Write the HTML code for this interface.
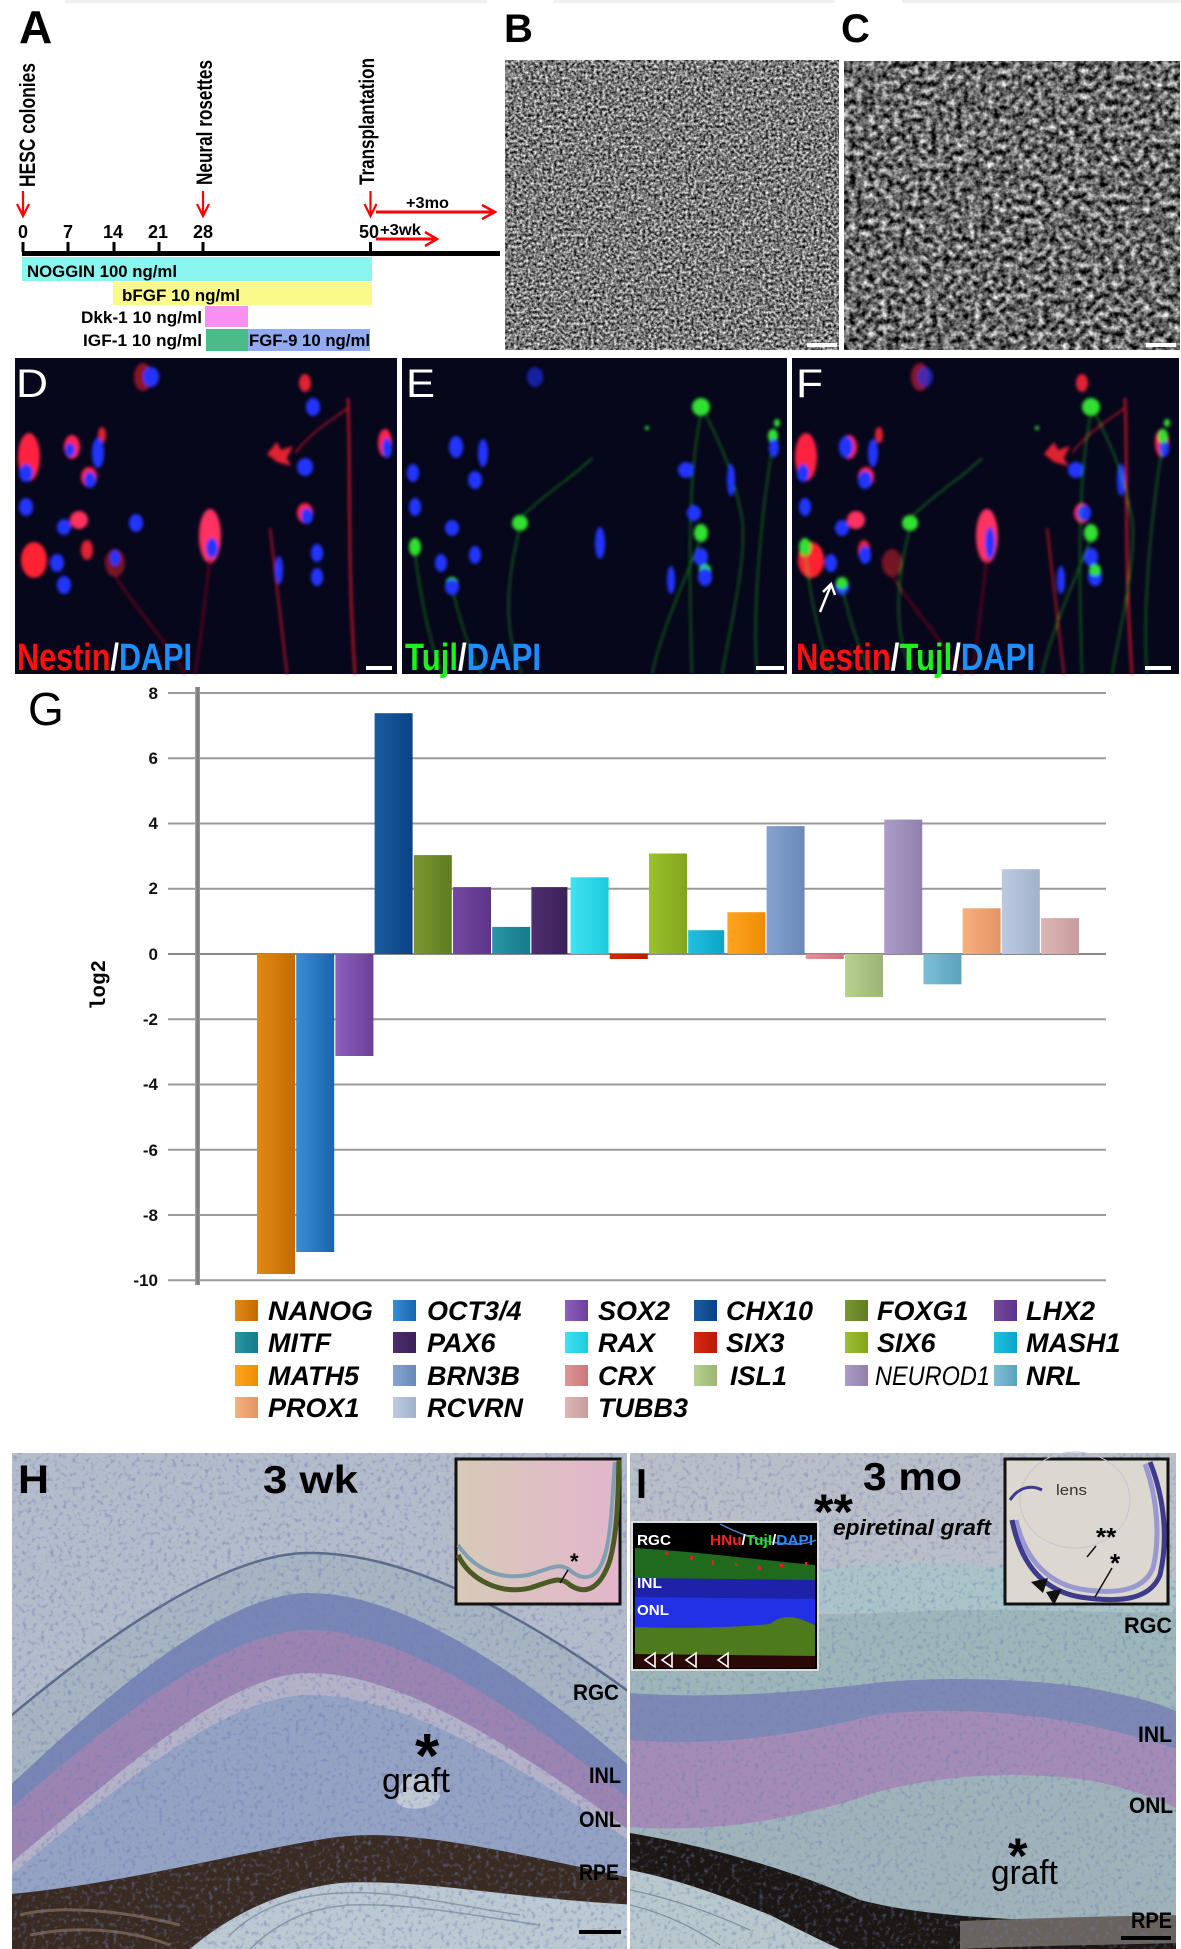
<!DOCTYPE html>
<html><head><meta charset="utf-8">
<style>
html,body{margin:0;padding:0;background:#fff;}
svg{display:block;}
text{font-family:"Liberation Sans",Arial,sans-serif;}
</style></head><body>
<svg width="1181" height="1949" viewBox="0 0 1181 1949" xmlns="http://www.w3.org/2000/svg" xmlns:xlink="http://www.w3.org/1999/xlink">
<defs>
 <filter id="phB" x="0" y="0" width="1" height="1" color-interpolation-filters="sRGB">
  <feTurbulence type="fractalNoise" baseFrequency="0.35" numOctaves="2" seed="5"/>
  <feColorMatrix type="matrix" values="1.5 0 0 0 -0.27  1.5 0 0 0 -0.27  1.5 0 0 0 -0.27  0 0 0 0 1"/>
 </filter>
 <filter id="phC" x="0" y="0" width="1" height="1" color-interpolation-filters="sRGB">
  <feTurbulence type="fractalNoise" baseFrequency="0.16" numOctaves="3" seed="11"/>
  <feColorMatrix type="matrix" values="1.5 0 0 0 -0.34  1.5 0 0 0 -0.34  1.5 0 0 0 -0.34  0 0 0 0 1"/>
 </filter>
 <filter id="dots" x="0" y="0" width="1" height="1">
  <feTurbulence type="fractalNoise" baseFrequency="0.22" numOctaves="2" seed="9"/>
  <feColorMatrix type="matrix" values="0 0 0 0 0.15  0 0 0 0 0.2  0 0 0 0 0.45  3.5 0 0 0 -1.85"/>
 </filter>
 <filter id="blur1" x="-20%" y="-20%" width="140%" height="140%"><feGaussianBlur stdDeviation="1.6"/></filter>
 <clipPath id="clipH"><rect x="12" y="1453" width="615" height="496"/></clipPath>
 <clipPath id="clipI"><rect x="630" y="1453" width="546" height="496"/></clipPath>

 <g id="dred">
  <ellipse cx="128" cy="19" rx="9" ry="14" fill="#c02030" opacity=".7"/>
  <ellipse cx="14" cy="99" rx="11" ry="24" fill="#ff2040"/>
  <ellipse cx="57" cy="89" rx="8" ry="12" fill="#ff2050"/>
  <ellipse cx="87" cy="77" rx="4" ry="8" fill="#e02030"/>
  <ellipse cx="74" cy="119" rx="8" ry="10" fill="#ff2050"/>
  <path d="M252,96 L262,84 L266,92 L278,88 L272,100 L276,108 L262,104 Z" fill="#e02030"/>
  <ellipse cx="370" cy="85" rx="7" ry="14" fill="#ff2050"/>
  <ellipse cx="64" cy="162" rx="9" ry="9" fill="#ff3060"/>
  <ellipse cx="195" cy="178" rx="11" ry="27" fill="#ff3060"/>
  <ellipse cx="290" cy="155" rx="8" ry="10" fill="#ff2050"/>
  <ellipse cx="72" cy="192" rx="6" ry="10" fill="#e02030"/>
  <ellipse cx="19" cy="202" rx="13" ry="18" fill="#ff2030"/>
  <ellipse cx="290" cy="25" rx="6" ry="9" fill="#e02030"/>
  <ellipse cx="100" cy="205" rx="10" ry="14" fill="#a01828" opacity=".7"/>
  <g fill="none">
   <path d="M333,40 C336,120 332,200 340,316" stroke="#c01828" stroke-width="2.5"/>
   <path d="M255,170 C262,230 268,280 272,316" stroke="#b01828" stroke-width="2"/>
   <path d="M280,95 C300,70 320,60 333,50" stroke="#c01828" stroke-width="1.5"/>
   <path d="M195,200 C190,240 185,290 180,316" stroke="#901020" stroke-width="1.5"/>
   <path d="M90,200 C110,240 150,280 170,316" stroke="#901020" stroke-width="1.5"/>
  </g>
 </g>
 <g id="dblue" fill="#2234ff">
  <ellipse cx="136" cy="19" rx="8" ry="10"/><ellipse cx="298" cy="49" rx="7" ry="9"/>
  <ellipse cx="11" cy="115" rx="7" ry="9"/><ellipse cx="83" cy="95" rx="6" ry="15"/>
  <ellipse cx="75" cy="122" rx="6" ry="8"/><ellipse cx="290" cy="109" rx="8" ry="9"/>
  <ellipse cx="372" cy="90" rx="5" ry="10"/><ellipse cx="11" cy="149" rx="7" ry="9"/>
  <ellipse cx="121" cy="165" rx="7" ry="9"/><ellipse cx="49" cy="169" rx="7" ry="8"/>
  <ellipse cx="292" cy="158" rx="6" ry="8"/><ellipse cx="42" cy="205" rx="7" ry="9"/>
  <ellipse cx="302" cy="195" rx="6" ry="9"/><ellipse cx="302" cy="219" rx="6" ry="9"/>
  <ellipse cx="49" cy="227" rx="7" ry="9"/><ellipse cx="264" cy="212" rx="4" ry="14"/>
  <ellipse cx="197" cy="190" rx="6" ry="10"/><ellipse cx="55" cy="92" rx="5" ry="7"/>
  <ellipse cx="100" cy="200" rx="5" ry="8"/>
 </g>
 <g id="egreen">
  <g fill="#30e030">
   <ellipse cx="299" cy="49" rx="9" ry="9"/><ellipse cx="375" cy="65" rx="3" ry="4"/>
   <ellipse cx="371" cy="78" rx="5" ry="7"/><ellipse cx="118" cy="165" rx="8" ry="8"/>
   <ellipse cx="299" cy="175" rx="7" ry="9"/><ellipse cx="13" cy="189" rx="6" ry="9"/>
   <ellipse cx="303" cy="212" rx="6" ry="6"/><ellipse cx="50" cy="225" rx="6" ry="6"/>
   <ellipse cx="245" cy="70" rx="2" ry="2"/>
  </g>
  <g fill="none" stroke="#22a022" stroke-width="1.3" opacity=".8">
   <path d="M299,55 C290,100 285,160 290,316"/>
   <path d="M303,55 C320,90 330,110 340,160 C345,200 330,260 320,316"/>
   <path d="M118,170 C105,220 100,270 120,316"/>
   <path d="M118,160 C150,130 170,120 190,100"/>
   <path d="M299,180 C280,230 260,270 250,316"/>
   <path d="M50,230 C60,270 70,300 80,316"/>
   <path d="M13,195 C20,250 30,290 40,316"/>
   <path d="M371,85 C360,150 350,250 355,316"/>
  </g>
 </g>
 <g id="eblue" fill="#2234ff">
  <ellipse cx="133" cy="19" rx="8" ry="10" opacity=".6"/><ellipse cx="54" cy="89" rx="7" ry="11"/>
  <ellipse cx="81" cy="95" rx="5" ry="14"/><ellipse cx="11" cy="115" rx="6" ry="9"/>
  <ellipse cx="73" cy="122" rx="7" ry="9"/><ellipse cx="284" cy="112" rx="8" ry="8"/>
  <ellipse cx="329" cy="122" rx="4" ry="16"/><ellipse cx="13" cy="149" rx="6" ry="9"/>
  <ellipse cx="50" cy="170" rx="7" ry="8"/><ellipse cx="198" cy="185" rx="5" ry="16"/>
  <ellipse cx="292" cy="155" rx="7" ry="8"/><ellipse cx="39" cy="205" rx="6" ry="9"/>
  <ellipse cx="73" cy="197" rx="6" ry="9"/><ellipse cx="299" cy="199" rx="7" ry="9"/>
  <ellipse cx="303" cy="219" rx="7" ry="9"/><ellipse cx="50" cy="229" rx="7" ry="8"/>
  <ellipse cx="269" cy="222" rx="4" ry="14"/><ellipse cx="372" cy="90" rx="5" ry="9"/>
 </g>

 <linearGradient id="g1" x1="0" x2="1"><stop offset="0" stop-color="#e08a18"/><stop offset="1" stop-color="#c46a00"/></linearGradient>
 <linearGradient id="g2" x1="0" x2="1"><stop offset="0" stop-color="#3a8ed4"/><stop offset="1" stop-color="#1a64ac"/></linearGradient>
 <linearGradient id="g3" x1="0" x2="1"><stop offset="0" stop-color="#8e60c0"/><stop offset="1" stop-color="#6a4098"/></linearGradient>
 <linearGradient id="g4" x1="0" x2="1"><stop offset="0" stop-color="#1a5ca0"/><stop offset="1" stop-color="#0a4282"/></linearGradient>
 <linearGradient id="g5" x1="0" x2="1"><stop offset="0" stop-color="#7a9632"/><stop offset="1" stop-color="#607c22"/></linearGradient>
 <linearGradient id="g6" x1="0" x2="1"><stop offset="0" stop-color="#7448a0"/><stop offset="1" stop-color="#5c3488"/></linearGradient>
 <linearGradient id="g7" x1="0" x2="1"><stop offset="0" stop-color="#2896a6"/><stop offset="1" stop-color="#167a8a"/></linearGradient>
 <linearGradient id="g8" x1="0" x2="1"><stop offset="0" stop-color="#4e2e6e"/><stop offset="1" stop-color="#3a2058"/></linearGradient>
 <linearGradient id="g9" x1="0" x2="1"><stop offset="0" stop-color="#40e2f0"/><stop offset="1" stop-color="#1ccadc"/></linearGradient>
 <linearGradient id="g10" x1="0" x2="1"><stop offset="0" stop-color="#d42a12"/><stop offset="1" stop-color="#b81a06"/></linearGradient>
 <linearGradient id="g11" x1="0" x2="1"><stop offset="0" stop-color="#9cc030"/><stop offset="1" stop-color="#82a41c"/></linearGradient>
 <linearGradient id="g12" x1="0" x2="1"><stop offset="0" stop-color="#22c0e0"/><stop offset="1" stop-color="#0aa4c8"/></linearGradient>
 <linearGradient id="g13" x1="0" x2="1"><stop offset="0" stop-color="#ffa420"/><stop offset="1" stop-color="#ee8c04"/></linearGradient>
 <linearGradient id="g14" x1="0" x2="1"><stop offset="0" stop-color="#86a4d0"/><stop offset="1" stop-color="#6a88b8"/></linearGradient>
 <linearGradient id="g15" x1="0" x2="1"><stop offset="0" stop-color="#e09494"/><stop offset="1" stop-color="#c87878"/></linearGradient>
 <linearGradient id="g16" x1="0" x2="1"><stop offset="0" stop-color="#b8d090"/><stop offset="1" stop-color="#9cb474"/></linearGradient>
 <linearGradient id="g17" x1="0" x2="1"><stop offset="0" stop-color="#ac9cc8"/><stop offset="1" stop-color="#9080ac"/></linearGradient>
 <linearGradient id="g18" x1="0" x2="1"><stop offset="0" stop-color="#7ebed4"/><stop offset="1" stop-color="#5aa2bc"/></linearGradient>
 <linearGradient id="g19" x1="0" x2="1"><stop offset="0" stop-color="#f6b080"/><stop offset="1" stop-color="#e49464"/></linearGradient>
 <linearGradient id="g20" x1="0" x2="1"><stop offset="0" stop-color="#bccae0"/><stop offset="1" stop-color="#a2b2cc"/></linearGradient>
 <linearGradient id="g21" x1="0" x2="1"><stop offset="0" stop-color="#dcb6b6"/><stop offset="1" stop-color="#c89c9c"/></linearGradient>
 <linearGradient id="axg" x1="0" x2="1"><stop offset="0" stop-color="#aaa"/><stop offset=".5" stop-color="#777"/><stop offset="1" stop-color="#999"/></linearGradient>
 <linearGradient id="insH" x1="0" x2="1"><stop offset="0" stop-color="#d8cab8"/><stop offset="1" stop-color="#e2b6cc"/></linearGradient>
</defs>

<rect width="1181" height="1949" fill="#fff"/>
<rect x="65" y="0" width="422" height="3" fill="#f0f0f0"/>
<rect x="554" y="0" width="281" height="3" fill="#f0f0f0"/>
<rect x="902" y="0" width="279" height="3" fill="#f0f0f0"/>

<!-- ===== Panel A ===== -->
<text x="19" y="43" font-size="46" font-weight="bold">A</text>
<g font-weight="bold">
 <text transform="translate(35,187) rotate(-90)" font-size="22" textLength="124" lengthAdjust="spacingAndGlyphs">HESC colonies</text>
 <text transform="translate(212,185) rotate(-90)" font-size="22" textLength="125" lengthAdjust="spacingAndGlyphs">Neural rosettes</text>
 <text transform="translate(374,185) rotate(-90)" font-size="21" textLength="127" lengthAdjust="spacingAndGlyphs">Transplantation</text>
</g>
<g stroke="#ff0000" stroke-width="2.2" fill="none">
 <line x1="23" y1="191" x2="23" y2="216"/><polyline points="17,204 23,216 29,204"/>
 <line x1="203" y1="191" x2="203" y2="216"/><polyline points="197,204 203,216 209,204"/>
 <line x1="370.5" y1="191" x2="370.5" y2="216"/><polyline points="364.5,204 370.5,216 376.5,204"/>
</g>
<g font-size="18" font-weight="bold" text-anchor="middle">
 <text x="23" y="238">0</text><text x="68" y="238">7</text><text x="113" y="238">14</text>
 <text x="158" y="238">21</text><text x="203" y="238">28</text><text x="369" y="238">50</text>
</g>
<rect x="22" y="251" width="478" height="5" fill="#000"/>
<g fill="#000">
 <rect x="21.5" y="242" width="3" height="10"/><rect x="66.5" y="242" width="3" height="10"/>
 <rect x="112.5" y="242" width="3" height="10"/><rect x="157.5" y="242" width="3" height="10"/>
 <rect x="201.5" y="242" width="3" height="10"/><rect x="369" y="242" width="3" height="10"/>
</g>
<rect x="22" y="257" width="350" height="24" fill="#8af6ef"/>
<rect x="113" y="282" width="259" height="23" fill="#fafa8a"/>
<rect x="205" y="306" width="43" height="21" fill="#f890f2"/>
<rect x="206" y="329" width="42" height="22" fill="#4cbb88"/>
<rect x="248" y="329" width="122" height="22" fill="#92abf0"/>
<g font-size="17" font-weight="bold">
 <text x="27" y="277" textLength="150" lengthAdjust="spacingAndGlyphs">NOGGIN  100 ng/ml</text>
 <text x="122" y="301" textLength="118" lengthAdjust="spacingAndGlyphs">bFGF  10 ng/ml</text>
 <text x="81" y="323" textLength="121" lengthAdjust="spacingAndGlyphs">Dkk-1  10 ng/ml</text>
 <text x="83" y="346" textLength="119" lengthAdjust="spacingAndGlyphs">IGF-1  10 ng/ml</text>
 <text x="249" y="346" textLength="121" lengthAdjust="spacingAndGlyphs">FGF-9  10 ng/ml</text>
</g>
<g stroke="#ff0000" fill="none">
 <line x1="376" y1="212" x2="492" y2="212" stroke-width="3"/>
 <polyline points="482,205 495,212 482,219" stroke-width="2.5"/>
 <line x1="376" y1="239" x2="434" y2="239" stroke-width="3"/>
 <polyline points="425,232 437,239 425,246" stroke-width="2.5"/>
</g>
<g font-size="16" font-weight="bold">
 <text x="406" y="208" textLength="43" lengthAdjust="spacingAndGlyphs">+3mo</text>
 <text x="380" y="235" textLength="41" lengthAdjust="spacingAndGlyphs">+3wk</text>
</g>

<!-- ===== Panels B, C ===== -->
<text x="504" y="42" font-size="40" font-weight="bold">B</text>
<text x="841" y="42" font-size="40" font-weight="bold">C</text>
<rect x="505" y="60" width="334" height="290" fill="#777" filter="url(#phB)"/>
<rect x="844" y="61" width="336" height="289" fill="#666" filter="url(#phC)"/>
<rect x="807" y="343" width="30" height="4" fill="#fff"/>
<rect x="1146" y="343" width="30" height="4" fill="#fff"/>

<!-- ===== Panels D, E, F ===== -->
<rect x="15" y="358" width="382" height="316" fill="#07071c"/>
<rect x="402" y="358" width="385" height="316" fill="#06071a"/>
<rect x="792" y="358" width="387" height="316" fill="#07071c"/>
<g filter="url(#blur1)">
 <use xlink:href="#dred" href="#dred" x="15" y="358"/>
 <use xlink:href="#dblue" href="#dblue" x="15" y="358"/>
 <use xlink:href="#egreen" href="#egreen" x="402" y="358"/>
 <use xlink:href="#eblue" href="#eblue" x="402" y="358"/>
 <use xlink:href="#dred" href="#dred" x="792" y="358"/>
 <use xlink:href="#eblue" href="#eblue" x="792" y="358"/>
 <use xlink:href="#egreen" href="#egreen" x="792" y="358"/>
</g>
<g stroke="#fff" stroke-width="2.5" fill="none">
 <line x1="820" y1="612" x2="831" y2="585"/><polyline points="823,592 831,584 835,595"/>
</g>
<g font-size="40" fill="#fff">
 <text x="16" y="397" textLength="32" lengthAdjust="spacingAndGlyphs">D</text>
 <text x="406" y="397" textLength="29" lengthAdjust="spacingAndGlyphs">E</text>
 <text x="796" y="397" textLength="27" lengthAdjust="spacingAndGlyphs">F</text>
</g>
<g font-size="38" font-weight="bold">
 <text x="17" y="670" textLength="175" lengthAdjust="spacingAndGlyphs"><tspan fill="#ff1010">Nestin</tspan><tspan fill="#fff">/</tspan><tspan fill="#1f8fff">DAPI</tspan></text>
 <text x="405" y="670" textLength="136" lengthAdjust="spacingAndGlyphs"><tspan fill="#22ee22">Tujl</tspan><tspan fill="#fff">/</tspan><tspan fill="#1f8fff">DAPI</tspan></text>
 <text x="796" y="670" textLength="239" lengthAdjust="spacingAndGlyphs"><tspan fill="#ff1010">Nestin</tspan><tspan fill="#fff">/</tspan><tspan fill="#22ee22">Tujl</tspan><tspan fill="#fff">/</tspan><tspan fill="#1f8fff">DAPI</tspan></text>
</g>
<g fill="#fff">
 <rect x="366" y="666" width="26" height="4"/><rect x="756" y="666" width="28" height="4"/><rect x="1145" y="666" width="26" height="4"/>
</g>

<!-- ===== Panel G chart ===== -->
<text x="28" y="725" font-size="46">G</text>
<g stroke="#9a9a9a" stroke-width="2">
 <line x1="168" y1="693" x2="1106" y2="693"/>
 <line x1="168" y1="758.2" x2="1106" y2="758.2"/>
 <line x1="168" y1="823.5" x2="1106" y2="823.5"/>
 <line x1="168" y1="888.7" x2="1106" y2="888.7"/>
 <line x1="168" y1="954" x2="1106" y2="954" stroke="#888"/>
 <line x1="168" y1="1019.3" x2="1106" y2="1019.3"/>
 <line x1="168" y1="1084.5" x2="1106" y2="1084.5"/>
 <line x1="168" y1="1149.8" x2="1106" y2="1149.8"/>
 <line x1="168" y1="1215" x2="1106" y2="1215"/>
 <line x1="168" y1="1280.3" x2="1106" y2="1280.3"/>
</g>
<rect x="195" y="687" width="5" height="598" fill="url(#axg)"/>
<g font-size="17" font-weight="bold" text-anchor="end" fill="#111">
 <text x="158" y="699">8</text><text x="158" y="764">6</text><text x="158" y="829">4</text>
 <text x="158" y="894">2</text><text x="158" y="960">0</text><text x="158" y="1025">-2</text>
 <text x="158" y="1090">-4</text><text x="158" y="1156">-6</text><text x="158" y="1221">-8</text>
 <text x="158" y="1286">-10</text>
</g>
<text transform="translate(105,985) rotate(-90)" text-anchor="middle" font-size="21" font-weight="bold" textLength="50" lengthAdjust="spacingAndGlyphs" style="font-family:'Liberation Mono',monospace">log2</text>
<g>
 <rect x="257" y="954" width="38" height="320" fill="url(#g1)"/>
 <rect x="296.2" y="954" width="38" height="298" fill="url(#g2)"/>
 <rect x="335.4" y="954" width="38" height="102" fill="url(#g3)"/>
 <rect x="374.6" y="713.2" width="38" height="240.8" fill="url(#g4)"/>
 <rect x="413.8" y="855.1" width="38" height="98.9" fill="url(#g5)"/>
 <rect x="453" y="887.1" width="38" height="66.9" fill="url(#g6)"/>
 <rect x="492.2" y="926.9" width="38" height="27.1" fill="url(#g7)"/>
 <rect x="531.4" y="887.1" width="36" height="66.9" fill="url(#g8)"/>
 <rect x="570.6" y="877.3" width="38" height="76.7" fill="url(#g9)"/>
 <rect x="609.8" y="954" width="38" height="5" fill="url(#g10)"/>
 <rect x="649" y="853.5" width="38" height="100.5" fill="url(#g11)"/>
 <rect x="688.2" y="930.2" width="36" height="23.8" fill="url(#g12)"/>
 <rect x="727.4" y="912.2" width="38" height="41.8" fill="url(#g13)"/>
 <rect x="766.6" y="826.1" width="38" height="127.9" fill="url(#g14)"/>
 <rect x="805.8" y="954" width="38" height="5" fill="url(#g15)"/>
 <rect x="845" y="954" width="38" height="43.1" fill="url(#g16)"/>
 <rect x="884.2" y="819.6" width="38" height="134.4" fill="url(#g17)"/>
 <rect x="923.4" y="954" width="38" height="30.3" fill="url(#g18)"/>
 <rect x="962.6" y="908.3" width="38" height="45.7" fill="url(#g19)"/>
 <rect x="1001.8" y="869.2" width="38" height="84.8" fill="url(#g20)"/>
 <rect x="1041" y="918.1" width="38" height="35.9" fill="url(#g21)"/>
</g>

<!-- Legend -->
<g>
 <rect x="235" y="1300" width="23" height="21" fill="url(#g1)"/>
 <rect x="393" y="1300" width="23" height="21" fill="url(#g2)"/>
 <rect x="565" y="1300" width="23" height="21" fill="url(#g3)"/>
 <rect x="694" y="1300" width="23" height="21" fill="url(#g4)"/>
 <rect x="845" y="1300" width="23" height="21" fill="url(#g5)"/>
 <rect x="994" y="1300" width="23" height="21" fill="url(#g6)"/>
 <rect x="235" y="1332" width="23" height="21" fill="url(#g7)"/>
 <rect x="393" y="1332" width="23" height="21" fill="url(#g8)"/>
 <rect x="565" y="1332" width="23" height="21" fill="url(#g9)"/>
 <rect x="694" y="1332" width="23" height="21" fill="url(#g10)"/>
 <rect x="845" y="1332" width="23" height="21" fill="url(#g11)"/>
 <rect x="994" y="1332" width="23" height="21" fill="url(#g12)"/>
 <rect x="235" y="1365" width="23" height="21" fill="url(#g13)"/>
 <rect x="393" y="1365" width="23" height="21" fill="url(#g14)"/>
 <rect x="565" y="1365" width="23" height="21" fill="url(#g15)"/>
 <rect x="694" y="1365" width="23" height="21" fill="url(#g16)"/>
 <rect x="845" y="1365" width="23" height="21" fill="url(#g17)"/>
 <rect x="994" y="1365" width="23" height="21" fill="url(#g18)"/>
 <rect x="235" y="1397" width="23" height="21" fill="url(#g19)"/>
 <rect x="393" y="1397" width="23" height="21" fill="url(#g20)"/>
 <rect x="565" y="1397" width="23" height="21" fill="url(#g21)"/>
</g>
<g font-size="27" font-weight="bold" font-style="italic" fill="#000">
 <text x="268" y="1320" textLength="105" lengthAdjust="spacingAndGlyphs">NANOG</text>
 <text x="427" y="1320">OCT3/4</text>
 <text x="598" y="1320">SOX2</text>
 <text x="726" y="1320">CHX10</text>
 <text x="877" y="1320">FOXG1</text>
 <text x="1026" y="1320">LHX2</text>
 <text x="268" y="1352">MITF</text>
 <text x="427" y="1352">PAX6</text>
 <text x="598" y="1352">RAX</text>
 <text x="726" y="1352">SIX3</text>
 <text x="877" y="1352">SIX6</text>
 <text x="1026" y="1352">MASH1</text>
 <text x="268" y="1385">MATH5</text>
 <text x="427" y="1385">BRN3B</text>
 <text x="598" y="1385">CRX</text>
 <text x="730" y="1385">ISL1</text>
 <text x="875" y="1385" textLength="115" lengthAdjust="spacingAndGlyphs" font-weight="normal">NEUROD1</text>
 <text x="1026" y="1385">NRL</text>
 <text x="268" y="1417">PROX1</text>
 <text x="427" y="1417">RCVRN</text>
 <text x="598" y="1417">TUBB3</text>
</g>

<!-- ===== Panel H ===== -->
<g clip-path="url(#clipH)">
 <rect x="12" y="1453" width="615" height="496" fill="#b4bccb"/>
 <path d="M0,1725 C100,1640 220,1555 306,1553 C400,1551 520,1610 640,1700 L640,1949 L0,1949 Z" fill="#a7b5c2" stroke="#5a6a88" stroke-width="2.5"/>
 <path d="M0,1795 C100,1700 220,1595 306,1593 C400,1591 520,1670 640,1775 L640,1949 L0,1949 Z" fill="#7886b6"/>
 <path d="M0,1818 C100,1730 220,1632 306,1630 C400,1628 520,1710 640,1808 L640,1949 L0,1949 Z" fill="#9c84b2"/>
 <path d="M0,1872 C100,1790 220,1675 306,1673 C400,1671 520,1750 640,1838 L640,1949 L0,1949 Z" fill="#b4b2c8"/>
 <path d="M0,1885 C100,1800 220,1697 306,1695 C400,1693 520,1765 640,1848 L640,1949 L0,1949 Z" fill="#94a2c4"/>
 <path d="M396,1800 C400,1770 430,1765 440,1790 C445,1810 400,1815 396,1800 Z" fill="#c0c8d4"/>
 <path d="M0,1895 C120,1885 250,1850 330,1838 C400,1828 480,1845 640,1880 L640,1949 L0,1949 Z" fill="#3a2b22"/>
 <path d="M190,1949 C230,1915 280,1890 340,1883 C420,1878 520,1900 640,1905 L640,1949 Z" fill="#bcc8d2"/>
 <g fill="none" stroke="#8a9aa8" stroke-width="1.5">
  <path d="M230,1935 C260,1905 300,1895 340,1893 C400,1890 450,1905 520,1915"/>
  <path d="M250,1949 C280,1920 310,1908 350,1905 C410,1903 470,1915 540,1925"/>
 </g>
 <g fill="none" stroke="#8a7060" stroke-width="3" opacity=".7">
  <path d="M20,1915 C60,1905 120,1910 180,1925"/>
  <path d="M30,1935 C80,1925 130,1930 170,1945"/>
 </g>
 <rect x="12" y="1453" width="615" height="496" fill="#000" filter="url(#dots)" opacity=".5"/>
</g>
<rect x="456" y="1459" width="164" height="145" fill="url(#insH)" stroke="#111" stroke-width="3"/>
<path d="M458,1545 C475,1570 500,1580 528,1575 C548,1570 560,1560 572,1572 C586,1582 598,1578 605,1555 C612,1530 612,1495 615,1462" fill="none" stroke="#7ea0b0" stroke-width="4"/>
<path d="M458,1555 C470,1580 500,1595 530,1588 C550,1582 560,1575 570,1585 C585,1595 600,1590 610,1560 C618,1530 618,1490 619,1460" fill="none" stroke="#4a5a22" stroke-width="5"/>
<text x="570" y="1569" font-size="22" font-weight="bold">*</text>
<line x1="568" y1="1570" x2="560" y2="1583" stroke="#111" stroke-width="1.5"/>
<text x="18" y="1493" font-size="40" font-weight="bold" textLength="31" lengthAdjust="spacingAndGlyphs">H</text>
<text x="263" y="1493" font-size="39" font-weight="bold" textLength="95" lengthAdjust="spacingAndGlyphs">3 wk</text>
<g font-size="22" font-weight="bold">
 <text x="573" y="1700" textLength="46" lengthAdjust="spacingAndGlyphs">RGC</text>
 <text x="589" y="1783" textLength="32" lengthAdjust="spacingAndGlyphs">INL</text>
 <text x="579" y="1827" textLength="42" lengthAdjust="spacingAndGlyphs">ONL</text>
 <text x="579" y="1880" textLength="40" lengthAdjust="spacingAndGlyphs">RPE</text>
</g>
<text x="415" y="1777" font-size="62" font-weight="bold">*</text>
<text x="382" y="1792" font-size="34" textLength="68" lengthAdjust="spacingAndGlyphs">graft</text>
<rect x="579" y="1930" width="42" height="4" fill="#000"/>

<!-- ===== Panel I ===== -->
<g clip-path="url(#clipI)">
 <rect x="630" y="1453" width="546" height="496" fill="#b9bfc8"/>
 <path d="M630,1600 C700,1595 760,1580 820,1570 C900,1560 1000,1565 1100,1575 L1180,1580 L1180,1612 L630,1612 Z" fill="#a9c5c9"/>
 <path d="M630,1615 C700,1610 800,1618 900,1612 C1000,1606 1100,1614 1180,1612 L1180,1949 L630,1949 Z" fill="#9db6ba"/>
 <path d="M630,1693 C700,1698 780,1695 874,1683 C950,1675 1050,1680 1100,1690 C1140,1698 1165,1705 1180,1713 L1180,1949 L630,1949 Z" fill="#7e88b4"/>
 <path d="M630,1740 C700,1746 780,1740 874,1715 C950,1705 1050,1715 1100,1728 C1140,1737 1165,1745 1180,1750 L1180,1949 L630,1949 Z" fill="#a48cb6"/>
 <path d="M630,1827 C700,1832 780,1825 874,1793 C950,1772 1030,1772 1087,1780 C1130,1788 1160,1800 1180,1810 L1180,1949 L630,1949 Z" fill="#a0b3ba"/>
 <path d="M630,1833 C700,1845 780,1865 860,1900 C920,1915 980,1920 1180,1925 L1180,1949 L630,1949 Z" fill="#1c1714"/>
 <path d="M960,1921 C1040,1918 1120,1916 1180,1915 L1180,1943 C1100,1945 1020,1946 960,1949 Z" fill="#6a625c"/>
 <path d="M630,1870 C680,1880 720,1895 770,1915 C800,1930 830,1945 840,1949 L630,1949 Z" fill="#b8c8cc"/>
 <g fill="none" stroke="#7a9098" stroke-width="1.2">
  <path d="M630,1890 C670,1898 710,1912 750,1930"/><path d="M630,1905 C660,1912 690,1925 720,1945"/>
 </g>
 <rect x="630" y="1453" width="546" height="496" fill="#000" filter="url(#dots)" opacity=".45"/>
</g>
<rect x="632" y="1522" width="186" height="148" fill="#000" stroke="#222" stroke-width="2"/>
<path d="M635,1548 C700,1552 760,1560 815,1565 L815,1582 L635,1580 Z" fill="#1f6a1c"/>
<path d="M635,1578 L815,1580 L815,1600 L635,1598 Z" fill="#1e22a8"/>
<path d="M635,1597 L815,1599 L815,1625 C800,1618 785,1612 770,1625 C740,1628 700,1630 635,1628 Z" fill="#2230e6"/>
<path d="M635,1627 C700,1629 740,1627 770,1624 C785,1612 800,1618 815,1625 L815,1657 L635,1655 Z" fill="#4d7a1c"/>
<path d="M635,1654 L815,1656 L815,1668 L635,1668 Z" fill="#2a0808"/>
<path d="M720,1524 C760,1545 800,1548 816,1540" fill="none" stroke="#5a7ac0" stroke-width="1.5"/>
<g fill="#e02020">
 <rect x="665" y="1552" width="3" height="3"/><rect x="690" y="1556" width="3" height="4"/><rect x="712" y="1560" width="2" height="5"/>
 <rect x="735" y="1563" width="3" height="3"/><rect x="758" y="1566" width="3" height="4"/><rect x="780" y="1564" width="3" height="3"/><rect x="805" y="1562" width="2" height="4"/>
</g>
<rect x="632" y="1522" width="186" height="148" fill="none" stroke="#ddd" stroke-width="2"/>
<g font-size="15" font-weight="bold" fill="#fff">
 <text x="637" y="1545" textLength="34" lengthAdjust="spacingAndGlyphs">RGC</text>
 <text x="637" y="1588" textLength="25" lengthAdjust="spacingAndGlyphs">INL</text>
 <text x="637" y="1615" textLength="32" lengthAdjust="spacingAndGlyphs">ONL</text>
 <text x="710" y="1545" textLength="103" lengthAdjust="spacingAndGlyphs"><tspan fill="#ff2020">HNu</tspan><tspan fill="#fff">/</tspan><tspan fill="#30e030">TujI</tspan><tspan fill="#fff">/</tspan><tspan fill="#2a8cff">DAPI</tspan></text>
</g>
<g fill="none" stroke="#fff" stroke-width="1.6">
 <polygon points="645,1660 655,1653 655,1667"/><polygon points="662,1660 672,1653 672,1667"/>
 <polygon points="686,1660 696,1653 696,1667"/><polygon points="718,1660 728,1653 728,1667"/>
</g>
<rect x="1005" y="1459" width="163" height="145" fill="#dcd8d0" stroke="#111" stroke-width="3"/>
<ellipse cx="1075" cy="1500" rx="55" ry="48" fill="none" stroke="#c6c4d4" stroke-width="1"/>
<path d="M1016,1520 C1024,1555 1044,1582 1080,1589 C1118,1595 1144,1590 1153,1568 C1160,1540 1158,1500 1145,1464" fill="none" stroke="#9a98d0" stroke-width="5"/>
<path d="M1012,1520 C1020,1560 1040,1590 1080,1597 C1120,1603 1150,1600 1160,1575 C1168,1540 1165,1500 1150,1462" fill="none" stroke="#3e3a8c" stroke-width="5"/>
<path d="M1010,1500 C1018,1488 1030,1484 1042,1490" fill="none" stroke="#3e3a8c" stroke-width="3"/>
<text x="1056" y="1495" font-size="15" fill="#333" textLength="31" lengthAdjust="spacingAndGlyphs">lens</text>
<text x="1096" y="1546" font-size="26" font-weight="bold">**</text>
<text x="1110" y="1572" font-size="26" font-weight="bold">*</text>
<g stroke="#111" stroke-width="1.5">
 <line x1="1096" y1="1546" x2="1087" y2="1557"/><line x1="1112" y1="1568" x2="1095" y2="1597"/>
</g>
<polygon points="1031,1582 1048,1578 1043,1593" fill="#111"/>
<polygon points="1046,1592 1062,1589 1054,1605" fill="#111"/>
<text x="636" y="1498" font-size="42" font-weight="bold" textLength="11" lengthAdjust="spacingAndGlyphs">I</text>
<text x="863" y="1490" font-size="39" font-weight="bold" textLength="99" lengthAdjust="spacingAndGlyphs">3 mo</text>
<text x="814" y="1529" font-size="50" font-weight="bold">**</text>
<text x="833" y="1535" font-size="22" font-weight="bold" font-style="italic" textLength="158" lengthAdjust="spacingAndGlyphs">epiretinal graft</text>
<g font-size="22" font-weight="bold">
 <text x="1124" y="1633" textLength="48" lengthAdjust="spacingAndGlyphs">RGC</text>
 <text x="1138" y="1742" textLength="34" lengthAdjust="spacingAndGlyphs">INL</text>
 <text x="1129" y="1813" textLength="44" lengthAdjust="spacingAndGlyphs">ONL</text>
 <text x="1131" y="1928" textLength="41" lengthAdjust="spacingAndGlyphs">RPE</text>
</g>
<text x="1008" y="1873" font-size="50" font-weight="bold">*</text>
<text x="991" y="1884" font-size="34" textLength="67" lengthAdjust="spacingAndGlyphs">graft</text>
<rect x="1121" y="1936" width="50" height="4" fill="#000"/>
</svg>
</body></html>
